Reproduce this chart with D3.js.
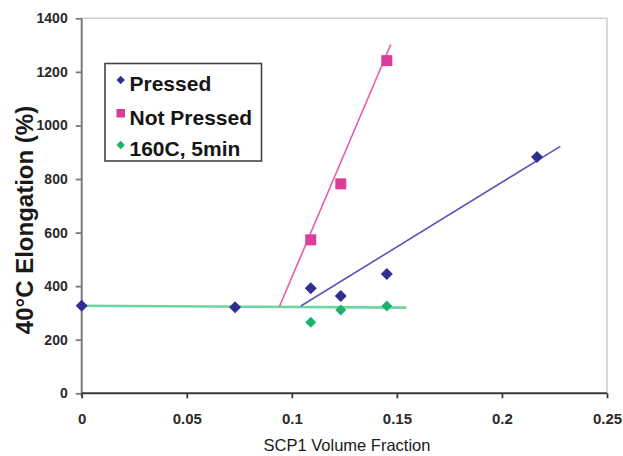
<!DOCTYPE html>
<html>
<head>
<meta charset="utf-8">
<script src="https://cdn.jsdelivr.net/npm/d3@7"></script>
<style>
  html, body { margin: 0; padding: 0; background: #fff; }
  svg { display: block; font-family: "Liberation Sans", Arial, sans-serif; }
</style>
</head>
<body>
<svg id="chart" width="623" height="456"></svg>
<script>
// SCP1 volume fraction vs. elongation at 40°C
const pressedX = [0, 0.073, 0.109, 0.1233, 0.1452, 0.2167];
const pressedY = [327, 321, 392, 363, 445, 882];

const notPressedX = [0.109, 0.1233, 0.1452];
const notPressedY = [573, 782, 1242];

const heatedX = [0.109, 0.1233, 0.1452];
const heatedY = [265, 311, 326];

// linear trendline end points (x, y)
const pressedTrendX = [0.1043, 0.2278];
const pressedTrendY = [326, 922];
const notPressedTrendX = [0.0941, 0.1471];
const notPressedTrendY = [324, 1302];
const heatedTrendX = [0, 0.1545];
const heatedTrendY = [327, 320];

const xTicks = [0, 0.05, 0.1, 0.15, 0.2, 0.25];
const xTickLabels = ["0", "0.05", "0.1", "0.15", "0.2", "0.25"];
const yTicks = [0, 200, 400, 600, 800, 1000, 1200, 1400];

const legendLabels = ["Pressed", "Not Pressed", "160C, 5min"];

const colors = {
  pressed: "#2e2f91",
  pressedLine: "#5a56b8",
  notPressed: "#db3d98",
  notPressedLine: "#ec5aa8",
  heated: "#1db36e",
  heatedLine: "#6ad6a0"
};

const svg = d3.select("#chart");
const plotLeft = 81.7, plotRight = 607, plotTop = 18.3, plotBottom = 393.3;

const x = d3.scaleLinear().domain([0, 0.25]).range([plotLeft, plotRight]);
const y = d3.scaleLinear().domain([0, 1400]).range([plotBottom, plotTop]);

// plot frame (top / right)
svg.append("path")
  .attr("d", `M${plotLeft},${plotTop}H${plotRight}V${plotBottom}`)
  .attr("fill", "none")
  .attr("stroke", "#cfcfcf")
  .attr("stroke-width", 1.6);

// y axis
const yAxis = svg.append("g")
  .attr("transform", `translate(${plotLeft},0)`)
  .call(d3.axisLeft(y).tickValues(yTicks).tickSize(6).tickPadding(8).tickFormat(d3.format("d")));
yAxis.select(".domain").attr("stroke", "#7a7a7a").attr("stroke-width", 2)
  .attr("d", `M0,${plotTop}V${plotBottom + 3}`);
yAxis.selectAll(".tick line").attr("stroke", "#7a7a7a").attr("stroke-width", 1.8);
yAxis.selectAll(".tick text")
  .attr("fill", "#2a2a2a")
  .style("font-size", "14px")
  .style("font-weight", "bold")
  .style("font-family", "'Liberation Sans', Arial, sans-serif");

// x axis
const xAxis = svg.append("g")
  .attr("transform", `translate(0,${plotBottom})`)
  .call(d3.axisBottom(x).tickValues(xTicks).tickSize(5).tickPadding(15)
    .tickFormat((d, i) => xTickLabels[i]));
xAxis.select(".domain").attr("stroke", "#3a3a3a").attr("stroke-width", 2)
  .attr("d", `M${plotLeft},0H${plotRight}`);
xAxis.selectAll(".tick line").attr("stroke", "#3a3a3a").attr("stroke-width", 1.8);
xAxis.selectAll(".tick text")
  .attr("fill", "#2a2a2a")
  .style("font-size", "15px")
  .style("font-weight", "bold")
  .style("font-family", "'Liberation Sans', Arial, sans-serif");

// axis titles
svg.append("text")
  .attr("transform", "translate(33,220) rotate(-90)")
  .attr("text-anchor", "middle")
  .attr("fill", "#1a1a1a")
  .style("font-size", "24px")
  .style("font-weight", "bold")
  .text("40°C Elongation (%)");

svg.append("text")
  .attr("x", 347)
  .attr("y", 451)
  .attr("text-anchor", "middle")
  .attr("fill", "#1a1a1a")
  .style("font-size", "16.5px")
  .text("SCP1 Volume Fraction");

// trendlines
const line = d3.line().x(d => x(d[0])).y(d => y(d[1]));
function trend(xs, ys, color, width) {
  svg.append("path")
    .datum(xs.map((v, i) => [v, ys[i]]))
    .attr("d", line)
    .attr("fill", "none")
    .attr("stroke", color)
    .attr("stroke-width", width);
}
trend(heatedTrendX, heatedTrendY, colors.heatedLine, 2.6);
trend(notPressedTrendX, notPressedTrendY, colors.notPressedLine, 1.6);
trend(pressedTrendX, pressedTrendY, colors.pressedLine, 1.6);

// markers
const diamond = s => `M0,${-s}L${s},0L0,${s}L${-s},0Z`;
function diamonds(xs, ys, color, s) {
  svg.append("g").selectAll("path")
    .data(xs.map((v, i) => [v, ys[i]]))
    .join("path")
    .attr("transform", d => `translate(${x(d[0])},${y(d[1])})`)
    .attr("d", diamond(s))
    .attr("fill", color);
}
diamonds(heatedX, heatedY, colors.heated, 5.5);
diamonds(pressedX, pressedY, colors.pressed, 6);

svg.append("g").selectAll("rect")
  .data(notPressedX.map((v, i) => [v, notPressedY[i]]))
  .join("rect")
  .attr("x", d => x(d[0]) - 5.5)
  .attr("y", d => y(d[1]) - 5.5)
  .attr("width", 11)
  .attr("height", 11)
  .attr("fill", colors.notPressed);

// legend
const legend = svg.append("g");
legend.append("rect")
  .attr("x", 105).attr("y", 63.5)
  .attr("width", 156.5).attr("height", 97.5)
  .attr("fill", "#fff")
  .attr("stroke", "#444")
  .attr("stroke-width", 1.6);

const legendColors = [colors.pressed, colors.notPressed, colors.heated];
const legendShapes = ["diamond", "square", "diamond"];
const rowY = [80, 113.5, 145];
legendLabels.forEach((lab, i) => {
  if (legendShapes[i] === "square") {
    legend.append("rect")
      .attr("x", 116.5).attr("y", rowY[i] - 4.5)
      .attr("width", 8.5).attr("height", 8.5)
      .attr("fill", legendColors[i]);
  } else {
    legend.append("path")
      .attr("transform", `translate(120.7,${rowY[i]})`)
      .attr("d", diamond(4.2))
      .attr("fill", legendColors[i]);
  }
  legend.append("text")
    .attr("x", 129.5)
    .attr("y", rowY[i] + 11)
    .attr("fill", "#151515")
    .style("font-size", "21px")
    .style("font-weight", "bold")
    .text(lab);
});
</script>
</body>
</html>
